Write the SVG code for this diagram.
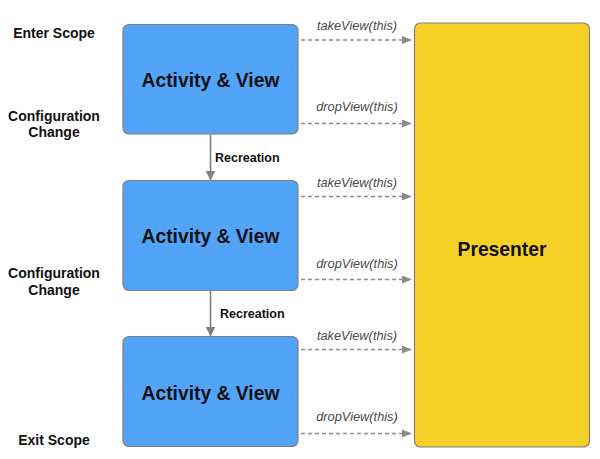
<svg xmlns="http://www.w3.org/2000/svg" width="600" height="459" viewBox="0 0 600 459">
<defs>
<style>
.av{fill:#51a4f8;stroke:#7d7f82;stroke-width:1.2}
.pr{fill:#f5d128;stroke:#7d7f82;stroke-width:1.2}
.big{font-family:"Liberation Sans",Arial,sans-serif;font-weight:bold;font-size:19.3px;fill:#111;text-anchor:middle;dominant-baseline:central}
.side{font-family:"Liberation Sans",Arial,sans-serif;font-weight:bold;font-size:14px;fill:#111;text-anchor:middle;dominant-baseline:central}
.rec{font-family:"Liberation Sans",Arial,sans-serif;font-weight:bold;font-size:12.5px;fill:#111;dominant-baseline:central}
.call{font-family:"Liberation Sans",Arial,sans-serif;font-style:italic;font-size:12.8px;fill:#4a4a4a;text-anchor:middle}
.dash{stroke:#8a8b8e;stroke-width:1.3;stroke-dasharray:4 3;fill:none;marker-end:url(#ah)}
.solid{stroke:#7d7f82;stroke-width:1.6;fill:none;marker-end:url(#ah2)}
</style>
<marker id="ah" markerWidth="10" markerHeight="8" refX="9" refY="4" orient="auto" markerUnits="userSpaceOnUse">
<path d="M0,0 L10,4 L0,8 Z" fill="#8a8b8e"/>
</marker>
<marker id="ah2" markerWidth="10" markerHeight="10" refX="9" refY="5" orient="auto" markerUnits="userSpaceOnUse">
<path d="M0,0 L10,5 L0,10 Z" fill="#7d7f82"/>
</marker>
</defs>
<rect width="600" height="459" fill="#fff"/>

<g id="labels">
<text class="side" x="54" y="33">Enter Scope</text>
<text class="side" x="54" y="116">Configuration</text>
<text class="side" x="54" y="132">Change</text>
<text class="side" x="54" y="273">Configuration</text>
<text class="side" x="54" y="289.5">Change</text>
<text class="side" x="54" y="440">Exit Scope</text>
</g>

<g id="activity1">
<rect class="av" x="123" y="24.5" width="175" height="109.5" rx="6"/>
<text class="big" x="210.5" y="80">Activity &amp; View</text>
</g>
<g id="activity2">
<rect class="av" x="123" y="180.5" width="175" height="110" rx="6"/>
<text class="big" x="210.5" y="236">Activity &amp; View</text>
</g>
<g id="activity3">
<rect class="av" x="123" y="336.5" width="175" height="110" rx="6"/>
<text class="big" x="210.5" y="393">Activity &amp; View</text>
</g>
<g id="presenter">
<rect class="pr" x="414.5" y="23" width="175" height="424" rx="6"/>
<text class="big" x="502" y="249">Presenter</text>
</g>

<g id="connectors">
<line class="solid" x1="210.5" y1="134.5" x2="210.5" y2="179.5"/>
<text class="rec" x="215" y="158">Recreation</text>
<line class="solid" x1="210.5" y1="291" x2="210.5" y2="335.5"/>
<text class="rec" x="220" y="313.5">Recreation</text>

<line class="dash" x1="301" y1="40" x2="411" y2="40"/>
<text class="call" x="357" y="30">takeView(this)</text>
<line class="dash" x1="301" y1="123.5" x2="411" y2="123.5"/>
<text class="call" x="357" y="111">dropView(this)</text>
<line class="dash" x1="301" y1="196.5" x2="411" y2="196.5"/>
<text class="call" x="357" y="187">takeView(this)</text>
<line class="dash" x1="301" y1="279.5" x2="411" y2="279.5"/>
<text class="call" x="357" y="268">dropView(this)</text>
<line class="dash" x1="301" y1="349.5" x2="411" y2="349.5"/>
<text class="call" x="357" y="340">takeView(this)</text>
<line class="dash" x1="301" y1="433.5" x2="411" y2="433.5"/>
<text class="call" x="357" y="421">dropView(this)</text>
</g>
</svg>
